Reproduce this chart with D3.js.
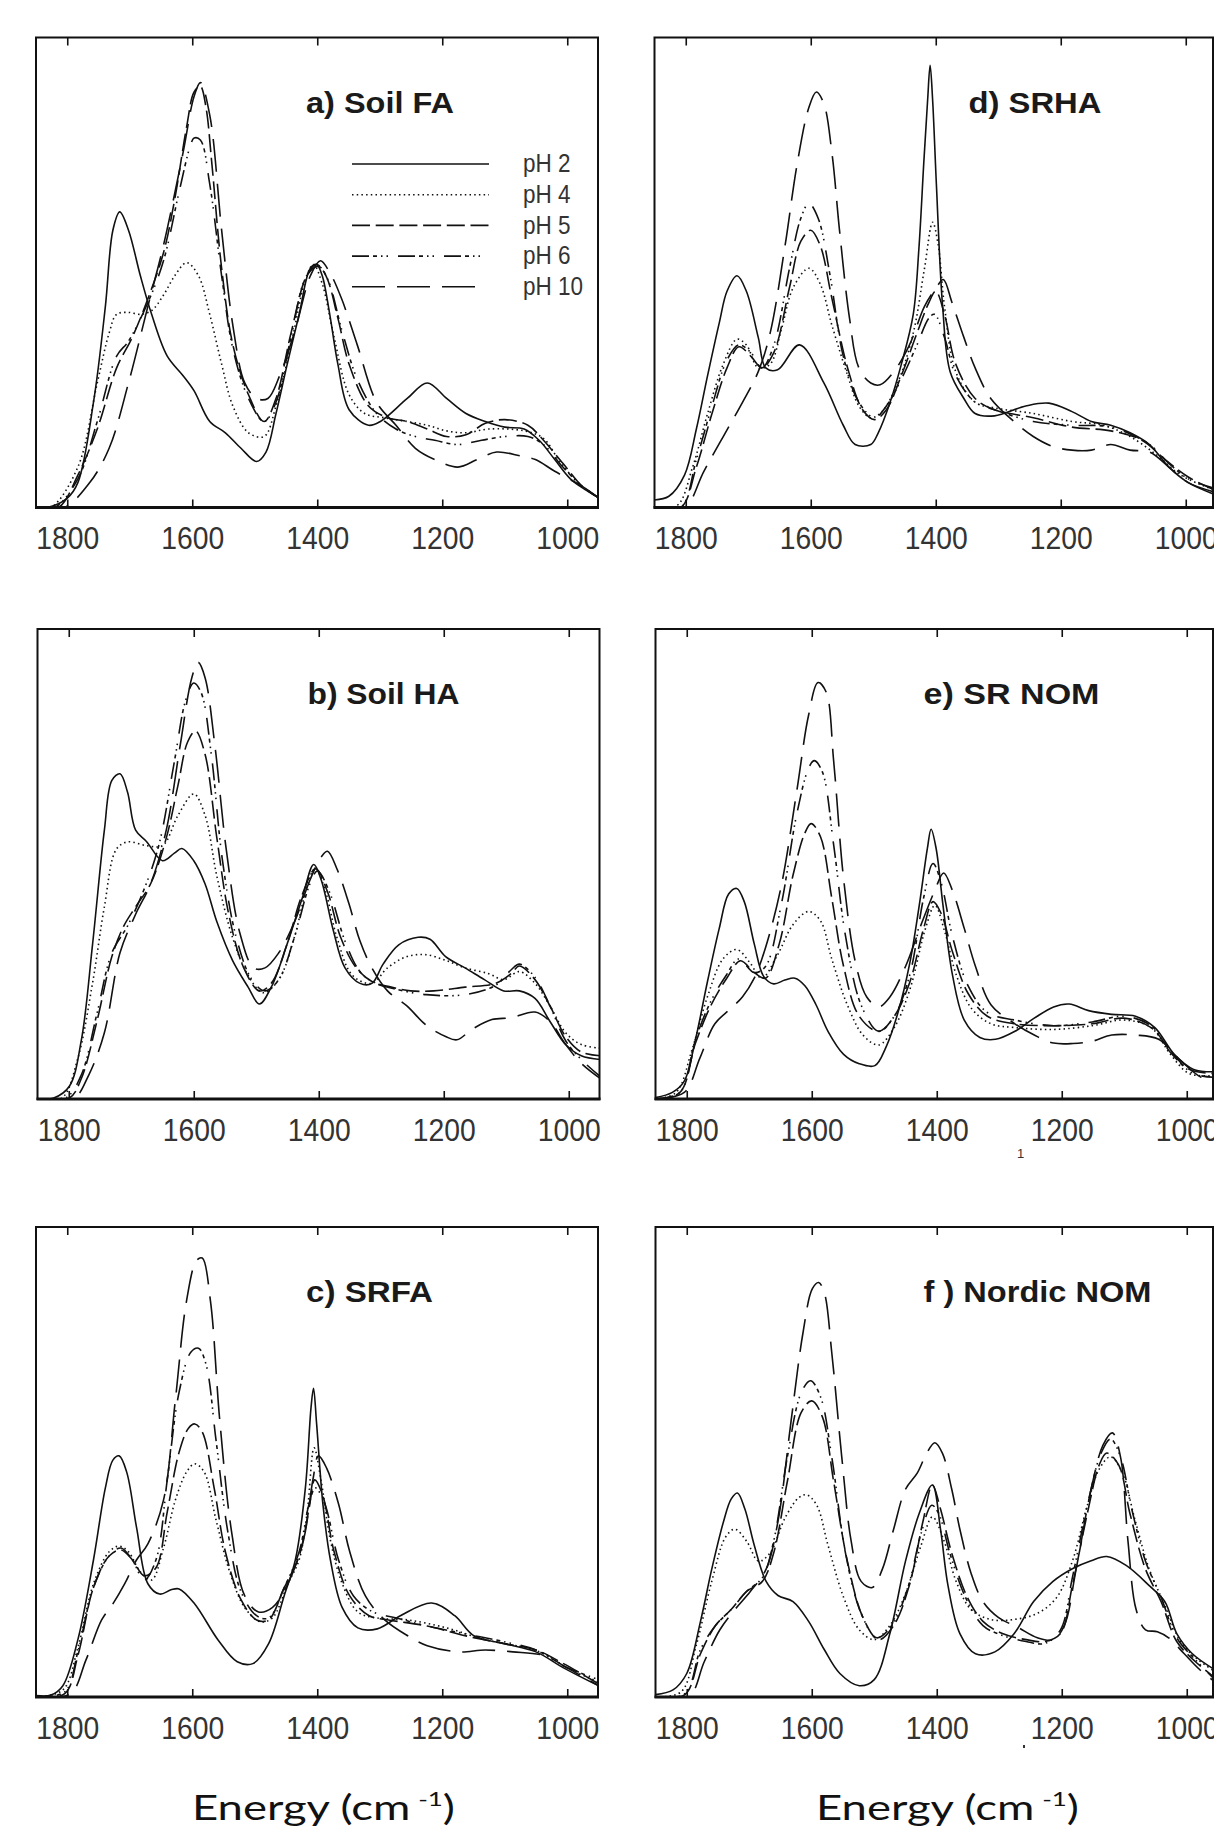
<!DOCTYPE html>
<html>
<head>
<meta charset="utf-8">
<script src="https://cdn.jsdelivr.net/npm/d3@7"></script>
<style>
  html, body { margin: 0; padding: 0; background: #fff; }
  svg { display: block; }
</style>
</head>
<body>
<svg id="fig" width="1214" height="1827"></svg>
<script>
// wavenumber ticks, legend labels, panel titles
const xTicks = [1800, 1600, 1400, 1200, 1000];
const phLabels = ["pH 2", "pH 4", "pH 5", "pH 6", "pH 10"];
const panelTitles = ["a) Soil FA", "d) SRHA", "b) Soil HA", "e) SR NOM", "c) SRFA", "f ) Nordic NOM"];

// spectra: [wavenumber (cm-1), absorbance (normalised to panel height)]
// a) Soil FA
const soilFA_pH2 = [[1850,0],[1832,0],[1800,.02],[1783,.053],[1758,.224],[1739,.428],[1727,.59],[1716,.629],[1702,.59],[1683,.493],[1665,.411],[1640,.322],[1615,.281],[1597,.248],[1572,.183],[1547,.159],[1522,.126],[1497,.098],[1482,.118],[1466,.2],[1448,.305],[1429,.411],[1411,.509],[1401,.517],[1392,.493],[1380,.411],[1367,.305],[1349,.208],[1318,.175],[1299,.183],[1256,.232],[1224,.265],[1193,.232],[1162,.2],[1131,.183],[1100,.171],[1069,.167],[1045,.143],[1020,.102],[995,.061],[970,.037],[949,.02]];
const soilFA_pH4 = [[1850,0],[1826,0],[1783,.086],[1752,.265],[1733,.371],[1721,.411],[1702,.415],[1683,.411],[1665,.419],[1646,.452],[1628,.493],[1609,.521],[1590,.493],[1572,.411],[1553,.305],[1535,.216],[1510,.159],[1485,.151],[1466,.216],[1442,.346],[1417,.493],[1406,.517],[1392,.476],[1373,.362],[1349,.24],[1324,.2],[1293,.191],[1256,.183],[1224,.175],[1193,.163],[1162,.159],[1125,.167],[1069,.163],[1038,.147],[1014,.102],[983,.053],[949,.02]];
const soilFA_pH5 = [[1850,0],[1814,0],[1783,.069],[1752,.167],[1721,.297],[1696,.362],[1671,.444],[1646,.542],[1628,.656],[1609,.81],[1597,.884],[1587,.896],[1578,.851],[1569,.737],[1553,.509],[1535,.346],[1510,.24],[1485,.183],[1466,.232],[1442,.371],[1417,.493],[1401,.517],[1386,.493],[1367,.403],[1349,.305],[1318,.216],[1287,.191],[1256,.183],[1224,.167],[1193,.151],[1162,.155],[1131,.179],[1100,.187],[1063,.175],[1038,.143],[1007,.094],[976,.045],[949,.02]];
const soilFA_pH6 = [[1850,0],[1820,0],[1783,.061],[1752,.183],[1721,.322],[1702,.354],[1671,.436],[1646,.525],[1621,.672],[1603,.77],[1597,.786],[1587,.782],[1572,.688],[1553,.493],[1535,.338],[1510,.232],[1485,.183],[1466,.224],[1442,.362],[1417,.493],[1398,.513],[1383,.485],[1361,.379],[1336,.273],[1305,.2],[1274,.167],[1243,.151],[1212,.143],[1175,.134],[1137,.143],[1100,.151],[1063,.151],[1038,.134],[1007,.086],[976,.045],[949,.02]];
const soilFA_pH10 = [[1850,0],[1805,0],[1764,.053],[1733,.126],[1702,.265],[1671,.428],[1646,.558],[1615,.753],[1597,.875],[1587,.904],[1572,.835],[1553,.59],[1535,.387],[1516,.265],[1497,.232],[1479,.232],[1460,.281],[1435,.379],[1411,.493],[1395,.525],[1380,.5],[1361,.444],[1336,.346],[1305,.224],[1274,.175],[1243,.126],[1212,.102],[1175,.086],[1144,.102],[1113,.118],[1076,.11],[1051,.102],[1020,.077],[976,.045],[949,.02]];

// d) SRHA
const srha_pH2 = [[1850,.016],[1827,.024],[1802,.069],[1783,.167],[1765,.281],[1746,.395],[1734,.46],[1718,.493],[1703,.46],[1684,.362],[1672,.297],[1653,.293],[1618,.346],[1579,.265],[1548,.175],[1529,.134],[1504,.134],[1492,.159],[1473,.224],[1455,.305],[1436,.411],[1427,.55],[1419,.737],[1413,.867],[1409,.941],[1405,.867],[1399,.688],[1389,.428],[1377,.289],[1355,.232],[1337,.2],[1306,.195],[1256,.216],[1219,.222],[1182,.204],[1151,.183],[1120,.175],[1089,.159],[1058,.134],[1027,.086],[996,.053],[954,.028]];
const srha_pH4 = [[1850,0],[1814,.004],[1789,.086],[1765,.2],[1740,.305],[1718,.358],[1703,.346],[1684,.297],[1665,.305],[1647,.379],[1628,.468],[1603,.509],[1585,.476],[1566,.387],[1541,.281],[1523,.216],[1504,.191],[1486,.204],[1461,.265],[1436,.371],[1418,.509],[1405,.607],[1396,.558],[1386,.428],[1368,.289],[1337,.224],[1306,.212],[1244,.2],[1182,.183],[1132,.175],[1089,.151],[1045,.11],[1008,.069],[954,.037]];
const srha_pH5 = [[1850,0],[1808,0],[1783,.086],[1758,.2],[1734,.297],[1715,.342],[1696,.322],[1678,.297],[1659,.33],[1634,.468],[1616,.566],[1600,.59],[1585,.558],[1566,.444],[1541,.297],[1517,.208],[1498,.187],[1479,.208],[1455,.281],[1430,.371],[1411,.436],[1400,.46],[1386,.411],[1368,.305],[1337,.232],[1306,.208],[1244,.191],[1182,.171],[1120,.163],[1070,.143],[1033,.102],[996,.065],[954,.037]];
const srha_pH6 = [[1850,0],[1808,0],[1783,.102],[1758,.216],[1734,.314],[1715,.346],[1696,.33],[1678,.297],[1659,.346],[1634,.509],[1616,.615],[1603,.647],[1588,.615],[1569,.493],[1548,.322],[1523,.224],[1498,.191],[1479,.216],[1455,.273],[1430,.346],[1411,.403],[1402,.411],[1386,.362],[1368,.281],[1337,.224],[1306,.208],[1244,.183],[1182,.175],[1120,.171],[1058,.134],[1027,.094],[996,.061],[954,.041]];
const srha_pH10 = [[1850,0],[1802,0],[1771,.077],[1740,.151],[1709,.224],[1684,.289],[1665,.371],[1641,.558],[1622,.729],[1603,.851],[1591,.884],[1579,.859],[1566,.753],[1554,.59],[1538,.403],[1523,.297],[1504,.265],[1489,.261],[1467,.289],[1442,.346],[1418,.428],[1399,.468],[1388,.485],[1374,.436],[1355,.362],[1337,.297],[1312,.232],[1275,.183],[1244,.151],[1213,.13],[1182,.122],[1151,.122],[1120,.134],[1089,.122],[1058,.118],[1027,.086],[996,.053],[954,.033]];

// b) Soil HA
const soilHA_pH2 = [[1850,0],[1824,.002],[1799,.027],[1780,.124],[1762,.328],[1743,.572],[1731,.678],[1718,.692],[1706,.653],[1693,.572],[1675,.547],[1650,.507],[1631,.523],[1619,.533],[1600,.507],[1582,.458],[1563,.377],[1538,.295],[1513,.238],[1495,.202],[1476,.238],[1451,.328],[1427,.425],[1408,.499],[1396,.466],[1377,.36],[1358,.279],[1334,.246],[1315,.246],[1297,.287],[1272,.328],[1241,.344],[1222,.34],[1197,.303],[1166,.279],[1135,.254],[1104,.23],[1079,.23],[1054,.214],[1030,.165],[1005,.116],[980,.092],[949,.084]];
const soilHA_pH4 = [[1850,0],[1811,.002],[1786,.084],[1762,.246],[1743,.409],[1724,.531],[1706,.547],[1675,.539],[1650,.539],[1625,.604],[1600,.649],[1582,.604],[1563,.474],[1538,.344],[1513,.263],[1489,.226],[1464,.254],[1439,.344],[1414,.474],[1405,.49],[1389,.441],[1371,.344],[1346,.263],[1315,.246],[1290,.279],[1259,.303],[1228,.307],[1197,.295],[1166,.279],[1129,.267],[1104,.254],[1079,.271],[1054,.246],[1030,.198],[1005,.141],[980,.116],[949,.108]];
const soilHA_pH5 = [[1850,0],[1799,.002],[1780,.043],[1755,.165],[1731,.303],[1712,.368],[1693,.409],[1669,.458],[1644,.555],[1625,.669],[1610,.759],[1597,.783],[1582,.734],[1563,.555],[1544,.393],[1520,.279],[1495,.23],[1476,.246],[1451,.328],[1427,.433],[1405,.49],[1386,.441],[1365,.344],[1340,.279],[1315,.25],[1284,.238],[1253,.23],[1216,.23],[1166,.238],[1117,.246],[1092,.267],[1079,.283],[1054,.254],[1030,.198],[1005,.133],[980,.1],[949,.092]];
const soilHA_pH6 = [[1850,0],[1805,.002],[1780,.051],[1755,.181],[1731,.311],[1706,.368],[1681,.441],[1656,.539],[1631,.718],[1613,.848],[1600,.885],[1588,.864],[1572,.734],[1554,.507],[1532,.344],[1507,.254],[1486,.23],[1464,.254],[1439,.344],[1414,.458],[1402,.485],[1383,.441],[1358,.336],[1334,.271],[1309,.246],[1278,.234],[1228,.222],[1166,.222],[1117,.242],[1092,.275],[1079,.287],[1054,.259],[1030,.198],[1005,.124],[980,.084],[949,.047]];
const soilHA_pH10 = [[1850,0],[1793,0],[1768,.051],[1743,.141],[1718,.311],[1693,.393],[1669,.458],[1644,.572],[1622,.75],[1603,.897],[1593,.929],[1582,.897],[1566,.75],[1548,.531],[1526,.352],[1504,.279],[1486,.279],[1464,.311],[1439,.376],[1414,.466],[1396,.515],[1386,.527],[1371,.49],[1352,.417],[1334,.336],[1315,.279],[1290,.23],[1259,.198],[1228,.157],[1197,.133],[1179,.126],[1154,.149],[1123,.169],[1092,.173],[1054,.185],[1030,.165],[1005,.116],[980,.076],[949,.043]];

// e) SR NOM
const srnom_pH2 = [[1850,.003],[1823,.014],[1804,.038],[1786,.127],[1767,.249],[1748,.363],[1733,.436],[1720,.448],[1708,.42],[1692,.33],[1677,.261],[1661,.245],[1643,.253],[1627,.257],[1611,.241],[1593,.2],[1574,.144],[1549,.095],[1524,.075],[1499,.071],[1481,.111],[1462,.184],[1443,.29],[1428,.412],[1415,.533],[1409,.574],[1401,.533],[1390,.412],[1375,.265],[1356,.168],[1331,.131],[1306,.127],[1275,.144],[1244,.172],[1213,.196],[1188,.202],[1157,.188],[1120,.18],[1082,.176],[1051,.152],[1020,.095],[989,.063],[953,.058]];
const srnom_pH4 = [[1850,0],[1817,.014],[1792,.103],[1767,.217],[1742,.298],[1720,.318],[1699,.29],[1680,.257],[1655,.306],[1630,.371],[1605,.399],[1586,.379],[1568,.298],[1543,.2],[1518,.136],[1493,.115],[1468,.152],[1443,.233],[1418,.363],[1403,.412],[1387,.355],[1369,.265],[1344,.192],[1313,.16],[1275,.152],[1213,.148],[1151,.156],[1101,.168],[1057,.152],[1026,.095],[996,.054],[953,.05]];
const srnom_pH5 = [[1850,0],[1811,.014],[1786,.119],[1761,.2],[1736,.257],[1714,.294],[1692,.269],[1674,.257],[1652,.33],[1630,.476],[1611,.566],[1601,.586],[1586,.558],[1568,.428],[1549,.282],[1524,.176],[1493,.144],[1468,.176],[1443,.249],[1421,.363],[1406,.42],[1393,.395],[1375,.314],[1350,.225],[1319,.176],[1275,.16],[1213,.156],[1151,.16],[1101,.172],[1057,.152],[1026,.103],[996,.063],[953,.054]];
const srnom_pH6 = [[1850,0],[1811,.014],[1786,.127],[1761,.209],[1736,.265],[1717,.298],[1692,.269],[1674,.282],[1649,.412],[1624,.606],[1605,.704],[1596,.72],[1583,.696],[1565,.541],[1546,.347],[1521,.2],[1493,.144],[1468,.176],[1443,.265],[1421,.428],[1406,.501],[1393,.46],[1375,.347],[1350,.241],[1319,.184],[1275,.168],[1213,.156],[1151,.164],[1101,.176],[1057,.156],[1026,.099],[989,.054],[953,.046]];
const srnom_pH10 = [[1850,0],[1804,.014],[1779,.087],[1755,.16],[1730,.192],[1711,.217],[1692,.257],[1674,.322],[1649,.452],[1624,.655],[1605,.817],[1590,.886],[1577,.866],[1565,.72],[1549,.468],[1530,.29],[1512,.217],[1493,.196],[1475,.217],[1450,.282],[1425,.371],[1403,.444],[1389,.481],[1375,.444],[1356,.363],[1338,.282],[1313,.2],[1275,.16],[1244,.136],[1213,.119],[1182,.118],[1151,.123],[1120,.136],[1082,.136],[1045,.127],[1014,.087],[977,.046],[953,.038]];

// c) SRFA
const srfa_pH2 = [[1850,.003],[1826,.004],[1807,.024],[1783,.122],[1758,.292],[1739,.445],[1727,.504],[1717,.513],[1705,.479],[1689,.36],[1671,.241],[1652,.219],[1634,.228],[1621,.23],[1596,.198],[1559,.122],[1528,.075],[1503,.071],[1478,.113],[1453,.215],[1435,.292],[1419,.445],[1410,.615],[1406,.657],[1401,.581],[1391,.411],[1379,.292],[1360,.19],[1335,.147],[1304,.145],[1267,.173],[1217,.2],[1180,.173],[1149,.13],[1099,.113],[1050,.096],[1006,.062],[950,.024]];
const srfa_pH4 = [[1850,0],[1807,.015],[1783,.105],[1758,.241],[1733,.309],[1717,.321],[1702,.309],[1683,.266],[1665,.249],[1646,.317],[1627,.419],[1609,.479],[1596,.496],[1581,.479],[1562,.377],[1540,.266],[1516,.19],[1491,.16],[1472,.168],[1447,.241],[1429,.292],[1416,.394],[1405,.53],[1394,.462],[1379,.334],[1360,.241],[1335,.181],[1304,.168],[1255,.164],[1193,.147],[1131,.122],[1068,.105],[1037,.092],[1000,.062],[950,.032]];
const srfa_pH5 = [[1850,0],[1804,.007],[1783,.088],[1758,.233],[1733,.3],[1714,.313],[1696,.292],[1677,.258],[1658,.275],[1640,.394],[1621,.521],[1606,.572],[1596,.581],[1584,.564],[1565,.445],[1547,.309],[1522,.207],[1497,.164],[1478,.164],[1453,.232],[1429,.3],[1413,.402],[1404,.462],[1391,.428],[1373,.309],[1348,.215],[1317,.173],[1286,.164],[1224,.151],[1162,.13],[1099,.113],[1050,.1],[1006,.071],[950,.028]];
const srfa_pH6 = [[1850,0],[1804,.011],[1783,.096],[1758,.233],[1733,.3],[1714,.317],[1696,.292],[1677,.249],[1658,.292],[1640,.462],[1621,.649],[1602,.734],[1590,.742],[1578,.708],[1562,.547],[1543,.351],[1522,.224],[1497,.173],[1478,.168],[1453,.232],[1429,.309],[1413,.411],[1403,.445],[1388,.411],[1366,.292],[1342,.215],[1311,.181],[1273,.168],[1224,.151],[1162,.134],[1099,.117],[1050,.1],[1006,.066],[950,.037]];
const srfa_pH10 = [[1850,0],[1795,.007],[1770,.079],[1745,.164],[1727,.198],[1708,.241],[1689,.292],[1671,.326],[1646,.419],[1627,.632],[1609,.844],[1593,.929],[1584,.934],[1571,.844],[1556,.589],[1537,.351],[1516,.215],[1494,.181],[1472,.19],[1447,.241],[1422,.334],[1407,.462],[1398,.513],[1385,.487],[1366,.411],[1348,.309],[1323,.215],[1292,.164],[1255,.13],[1224,.109],[1174,.096],[1131,.1],[1087,.096],[1037,.088],[1000,.062],[950,.024]];

// f) Nordic NOM
const nordic_pH2 = [[1850,.005],[1822,.015],[1800,.05],[1778,.161],[1760,.272],[1741,.374],[1729,.421],[1719,.434],[1707,.4],[1692,.323],[1673,.246],[1654,.216],[1630,.203],[1605,.161],[1580,.101],[1555,.05],[1524,.024],[1500,.037],[1475,.135],[1450,.289],[1428,.391],[1407,.451],[1394,.357],[1382,.237],[1363,.135],[1338,.092],[1307,.096],[1276,.135],[1245,.203],[1214,.246],[1183,.273],[1153,.29],[1128,.299],[1097,.28],[1060,.237],[1035,.203],[1016,.135],[991,.092],[955,.058]];
const nordic_pH4 = [[1850,0],[1809,.011],[1785,.109],[1760,.246],[1738,.34],[1723,.357],[1704,.331],[1685,.289],[1667,.306],[1642,.383],[1620,.425],[1608,.43],[1592,.408],[1574,.323],[1549,.212],[1524,.143],[1500,.122],[1475,.152],[1450,.22],[1425,.323],[1407,.383],[1388,.331],[1369,.246],[1345,.186],[1314,.165],[1276,.165],[1239,.178],[1208,.212],[1183,.289],[1159,.408],[1140,.485],[1122,.511],[1103,.477],[1084,.383],[1060,.272],[1035,.195],[1010,.118],[986,.084],[955,.054]];
const nordic_pH5 = [[1850,0],[1803,.005],[1778,.092],[1754,.152],[1729,.186],[1704,.225],[1679,.246],[1661,.306],[1639,.459],[1617,.605],[1600,.63],[1583,.596],[1565,.459],[1543,.289],[1518,.169],[1493,.122],[1469,.152],[1444,.237],[1422,.374],[1407,.451],[1394,.4],[1376,.306],[1351,.212],[1326,.161],[1295,.135],[1257,.122],[1227,.118],[1202,.135],[1183,.237],[1159,.391],[1140,.494],[1128,.519],[1109,.494],[1091,.391],[1066,.272],[1041,.203],[1016,.118],[986,.075],[955,.041]];
const nordic_pH6 = [[1850,0],[1803,.007],[1778,.101],[1754,.152],[1729,.186],[1704,.225],[1679,.254],[1661,.331],[1639,.511],[1617,.647],[1602,.673],[1586,.639],[1568,.511],[1546,.306],[1521,.178],[1496,.126],[1472,.152],[1447,.229],[1425,.348],[1408,.408],[1397,.391],[1379,.306],[1354,.212],[1326,.152],[1295,.131],[1257,.118],[1227,.114],[1202,.143],[1183,.254],[1159,.408],[1137,.519],[1122,.549],[1106,.511],[1088,.4],[1066,.289],[1041,.212],[1016,.126],[986,.079],[955,.037]];
const nordic_pH10 = [[1850,0],[1797,0],[1772,.075],[1747,.143],[1723,.186],[1698,.225],[1673,.272],[1654,.374],[1633,.588],[1614,.775],[1599,.869],[1589,.882],[1580,.861],[1568,.733],[1552,.511],[1537,.332],[1521,.246],[1503,.233],[1487,.272],[1469,.357],[1450,.442],[1431,.477],[1416,.519],[1403,.541],[1391,.519],[1376,.442],[1363,.357],[1345,.263],[1326,.203],[1301,.169],[1270,.148],[1239,.126],[1214,.122],[1196,.152],[1177,.272],[1153,.442],[1134,.536],[1119,.562],[1106,.511],[1094,.331],[1081,.186],[1066,.143],[1047,.139],[1029,.126],[1004,.092],[979,.058],[955,.032]];

const panelSeries = [
  [soilFA_pH2, soilFA_pH4, soilFA_pH5, soilFA_pH6, soilFA_pH10],
  [srha_pH2, srha_pH4, srha_pH5, srha_pH6, srha_pH10],
  [soilHA_pH2, soilHA_pH4, soilHA_pH5, soilHA_pH6, soilHA_pH10],
  [srnom_pH2, srnom_pH4, srnom_pH5, srnom_pH6, srnom_pH10],
  [srfa_pH2, srfa_pH4, srfa_pH5, srfa_pH6, srfa_pH10],
  [nordic_pH2, nordic_pH4, nordic_pH5, nordic_pH6, nordic_pH10]
];

// ---- layout / style ----
const H = 470;
const pxPerUnit = 0.625;   // same wavenumber scale in every panel
// panel boxes in page pixels (right column is cut by the page edge), title offset and width
const layout = [
  {x: 36,    y: 37.5, w: 562,   tx: 270, tw: 148},
  {x: 654.5, y: 37.5, w: 558.5, tx: 314, tw: 133},
  {x: 37.5,  y: 629,  w: 562,   tx: 270, tw: 152},
  {x: 655.5, y: 629,  w: 557.5, tx: 268, tw: 176},
  {x: 36,    y: 1227, w: 562,   tx: 270, tw: 127},
  {x: 655.5, y: 1227, w: 557.5, tx: 268, tw: 228}
];
const dashes = [null, "1.5,3.2", "18,5.7", "17,4,4,4,1.5,4,1.5,10", "33,12"];
const ink = "#111";

const svg = d3.select("#fig");
const defs = svg.append("defs");

function condense(sel, f) {
  sel.each(function () {
    const w = this.getComputedTextLength();
    this.setAttribute("textLength", (w * f).toFixed(1));
    this.setAttribute("lengthAdjust", "spacingAndGlyphs");
  });
}

panelSeries.forEach((series, i) => {
  const L = layout[i];
  const W = L.w;
  const xs = d3.scaleLinear().domain([1850, 1850 - W / pxPerUnit]).range([L.x, L.x + W]);
  const ys = d3.scaleLinear().domain([0, 1]).range([L.y + H, L.y]);
  const g = svg.append("g");

  defs.append("clipPath").attr("id", "clip" + i)
    .append("rect").attr("x", L.x).attr("y", L.y).attr("width", W).attr("height", H);

  const line = d3.line()
    .x(d => xs(d[0]))
    .y(d => ys(d[1]))
    .curve(d3.curveCatmullRom.alpha(0.5));

  g.append("g").attr("clip-path", `url(#clip${i})`)
    .selectAll("path")
    .data(series)
    .join("path")
      .attr("d", line)
      .attr("fill", "none")
      .attr("stroke", ink)
      .attr("stroke-width", 1.6)
      .attr("stroke-linejoin", "round")
      .attr("stroke-dasharray", (d, j) => dashes[j]);

  // frame
  g.append("rect")
    .attr("x", L.x).attr("y", L.y).attr("width", W).attr("height", H)
    .attr("fill", "none").attr("stroke", ink).attr("stroke-width", 2);
  g.append("line")
    .attr("x1", L.x - 1).attr("x2", L.x + W + 1)
    .attr("y1", L.y + H).attr("y2", L.y + H)
    .attr("stroke", ink).attr("stroke-width", 2.8);

  // bottom axis with inward ticks
  const gb = g.append("g")
    .attr("transform", `translate(0,${L.y + H})`)
    .call(d3.axisBottom(xs).tickValues(xTicks).tickFormat(d3.format("d"))
      .tickSizeInner(-8).tickSizeOuter(0).tickPadding(19));
  gb.select(".domain").remove();
  gb.attr("font-size", 32).attr("font-family", "'Liberation Sans', Arial, sans-serif");
  gb.selectAll(".tick line").attr("stroke", ink).attr("stroke-width", 1.6);
  gb.selectAll(".tick text").attr("fill", "#333");
  condense(gb.selectAll(".tick text"), 0.885);

  // top axis, ticks only
  const gt = g.append("g")
    .attr("transform", `translate(0,${L.y})`)
    .call(d3.axisTop(xs).tickValues(xTicks).tickSizeInner(-8).tickSizeOuter(0).tickFormat(""));
  gt.select(".domain").remove();
  gt.selectAll(".tick line").attr("stroke", ink).attr("stroke-width", 1.6);

  // title
  g.append("text")
    .attr("x", L.x + L.tx).attr("y", L.y + 75)
    .attr("font-family", "'Liberation Sans', Arial, sans-serif")
    .attr("font-weight", "bold")
    .attr("font-size", 29)
    .attr("fill", "#1a1a1a")
    .attr("textLength", L.tw)
    .attr("lengthAdjust", "spacingAndGlyphs")
    .text(panelTitles[i]);

  // legend only in panel a
  if (i === 0) {
    const lg = g.append("g");
    phLabels.forEach((lab, j) => {
      const yy = L.y + 126.5 + j * 30.7;
      lg.append("line")
        .attr("x1", L.x + 316).attr("x2", L.x + (j === 4 ? 441 : 453))
        .attr("y1", yy).attr("y2", yy)
        .attr("stroke", ink).attr("stroke-width", 1.6)
        .attr("stroke-dasharray", dashes[j]);
      lg.append("text")
        .attr("x", L.x + 487).attr("y", yy + 8.3)
        .attr("font-family", "'Liberation Sans', Arial, sans-serif")
        .attr("font-size", 25)
        .attr("fill", "#333")
        .text(lab);
    });
    condense(lg.selectAll("text"), 0.9);
  }
});

// x-axis titles under the bottom row
const energyCenters = [323.5, 947.5];
energyCenters.forEach(cx => {
  const t = svg.append("text")
    .attr("x", cx).attr("y", 1820)
    .attr("text-anchor", "middle")
    .attr("font-family", "Lato, 'DejaVu Sans', sans-serif")
    .attr("font-size", 35)
    .attr("fill", "#111");
  t.append("tspan").text("Energy (cm");
  t.append("tspan").attr("dx", 6).attr("dy", -14).attr("font-size", 20).text("-1");
  t.append("tspan").attr("dy", 14).text(")");
  const w = t.node().getBBox().width;
  const s = 263 / w;
  t.attr("transform", `translate(${cx},0) scale(${s},1) translate(${-cx},0)`);
});

// small stray marks from the original scan
svg.append("text").attr("x", 1017).attr("y", 1158)
  .attr("font-family", "'Liberation Sans', Arial, sans-serif").attr("font-size", 13)
  .attr("fill", "#333").text("1");
svg.append("rect").attr("x", 1023).attr("y", 1745).attr("width", 2).attr("height", 3).attr("fill", "#333");
</script>
</body>
</html>
